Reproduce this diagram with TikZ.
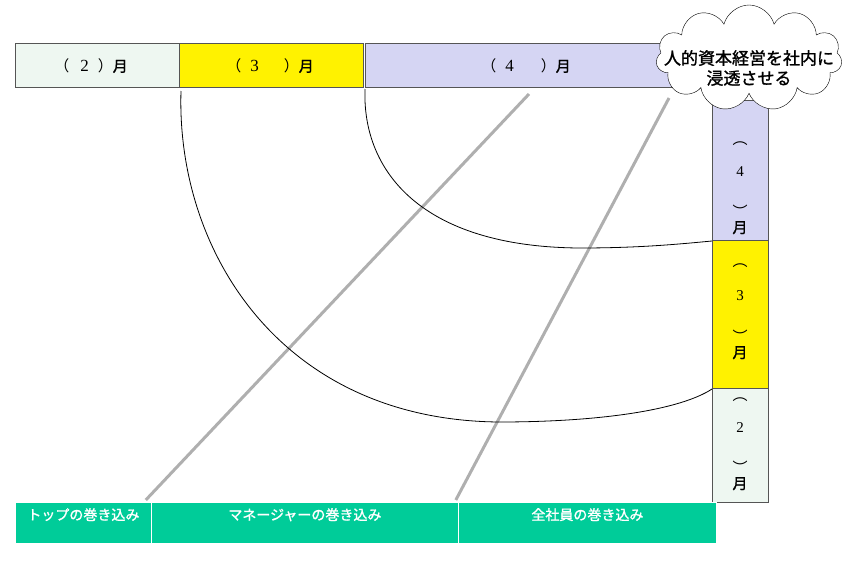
\documentclass[tikz,border=0pt]{standalone}
\usepackage{fontspec}
\setmainfont{Liberation Serif}
\newfontfamily\jp{Noto Sans CJK JP}
\newfontfamily\jpb[FakeBold=1.3]{Noto Sans CJK JP}
\usetikzlibrary{positioning,shapes.symbols}

\definecolor{mintpale}{RGB}{238,247,241}
\definecolor{lavender}{RGB}{213,213,243}
\definecolor{jadegreen}{RGB}{0,204,153}
\definecolor{framegray}{RGB}{85,85,85}
\definecolor{spokegray}{RGB}{175,175,175}

\begin{document}
\begin{tikzpicture}[x=1pt,y=-1pt,
  month/.style={draw=framegray,line width=1pt,anchor=north west,inner sep=0pt},
  upper/.style={month,minimum height=44pt},
  column/.style={month,minimum width=56pt},
  hlabel/.style={font=\fontsize{17}{18}\selectfont,inner sep=0pt},
  vlabel/.style={font=\jp\fontsize{15}{15}\selectfont,align=center,anchor=north,inner sep=0pt},
  reach/.style={draw=white,line width=0.8pt,fill=jadegreen,anchor=north west,minimum height=41pt,inner sep=0pt},
  reachtext/.style={text=white,font=\jpb\fontsize{14}{16}\selectfont,inner sep=0pt},
  spoke/.style={draw=spokegray,line width=3pt},
  sweep/.style={draw=black,line width=0.8pt}]
\useasboundingbox (0,0) rectangle (850,560);

% months along the top
\node[upper,fill=mintpale,minimum width=164pt] (m2) at (15,43) {};
\node[upper,fill=yellow,minimum width=184pt] (m3) at (179,43) {};
\node[upper,fill=lavender,minimum width=335pt] (m4) at (365,43) {};
\node[hlabel] (m2t) at (91,66) {{\jp\fontsize{15}{18}\selectfont （}\hspace{11pt}2\hspace{9pt}{\jp\fontsize{15}{18}\selectfont ）\jpb 月}};
\node[hlabel] (m3t) at (270,66) {{\jp\fontsize{15}{18}\selectfont （}\hspace{9pt}3\hspace{25pt}{\jp\fontsize{15}{18}\selectfont ）\jpb 月}};
\node[hlabel] (m4t) at (526,66) {{\jp\fontsize{15}{18}\selectfont （}\hspace{9pt}4\hspace{27pt}{\jp\fontsize{15}{18}\selectfont ）\jpb 月}};

% months down the right side
\node[column,fill=lavender,minimum height=140pt] (v4) at (712,100) {};
\node[column,fill=yellow,minimum height=148pt] (v3) at (712,240) {};
\node[column,fill=mintpale,minimum height=114pt] (v2) at (712,388) {};
\node[vlabel] (v4t) at (740,142) {︵\\[17pt]{\rmfamily 4}\\[26pt]︶\\[0pt]{\jpb 月}};
\node[vlabel] (v3t) at (740,264) {︵\\[19pt]{\rmfamily 3}\\[27pt]︶\\[0pt]{\jpb 月}};
\node[vlabel] (v2t) at (740,398) {︵\\[17pt]{\rmfamily 2}\\[26pt]︶\\[0pt]{\jpb 月}};

% who is involved
\node[reach,minimum width=136pt] (r1) at (15,502) {};
\node[reach,minimum width=307pt] (r2) at (151,502) {};
\node[reach,minimum width=258pt] (r3) at (458,502) {};
\node[reachtext,below=6pt of r1.north] (r1t) {トップの巻き込み};
\node[reachtext,below=6pt of r2.north] (r2t) {マネージャーの巻き込み};
\node[reachtext,below=6pt of r3.north] (r3t) {全社員の巻き込み};

% the goal
\node[cloud,draw=black,fill=white,cloud puffs=11,cloud ignores aspect,
      minimum width=186pt,minimum height=106pt,inner sep=0pt] (goal) at (749,58) {};
\node[font=\jpb\fontsize{17}{20}\selectfont,align=center,inner sep=0pt] (goalt) at (749,68)
  {人的資本経営を社内に\\浸透させる};

% spokes and sweeps
\coordinate (s2top) at (669,98);
\draw[spoke] ([xshift=-4pt,yshift=-6pt]m4.south) -- ([xshift=-6pt,yshift=2pt]r1.north east);
\draw[spoke] (s2top) -- ([xshift=-3pt,yshift=2pt]r2.north east);
\draw[sweep] ([xshift=2pt,yshift=-3pt]m3.south west) .. controls (176,250) and (280,420) .. (499,422)
  .. controls (600,422) and (680,410) .. (v3.south west);
\draw[sweep] ([yshift=-1pt]m4.south west) .. controls (362,170) and (420,247) .. (580,248)
  .. controls (640,248) and (680,244) .. (v4.south west);
\end{tikzpicture}
\end{document}
